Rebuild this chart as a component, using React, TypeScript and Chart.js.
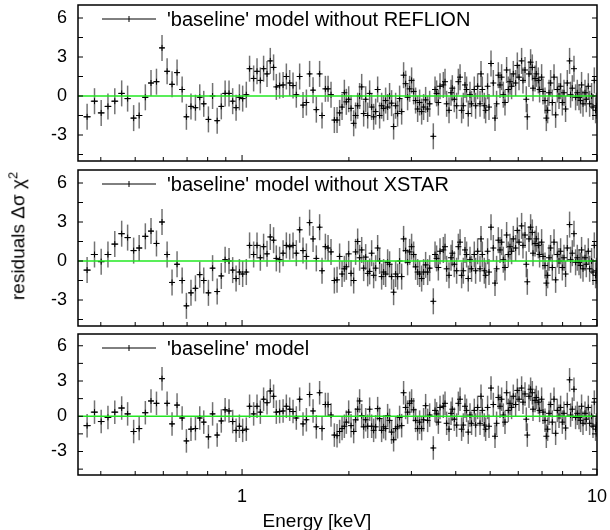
import { useEffect, useRef } from 'react'
import { Chart, registerables } from 'chart.js'

Chart.register(...registerables)

// channel energies (keV), shared by the three fits
const ENERGY_KEV = [
  0.366, 0.384, 0.401, 0.419, 0.438, 0.458, 0.476, 0.495, 0.513, 0.534,
  0.554, 0.574, 0.595, 0.615, 0.635, 0.656, 0.678, 0.697, 0.718, 0.739,
  0.760, 0.780, 0.804, 0.826, 0.851, 0.874, 0.896, 0.919, 0.941, 0.962,
  0.983, 1.004, 1.028, 1.050,
  1.078, 1.102, 1.126, 1.150, 1.176, 1.201, 1.227, 1.249, 1.276, 1.305,
  1.333, 1.362, 1.392, 1.422, 1.453, 1.485, 1.518, 1.550, 1.585, 1.619,
  1.654, 1.680, 1.717, 1.747, 1.781, 1.820, 1.852, 1.883, 1.913, 1.942,
  1.967, 1.997, 2.028, 2.063, 2.089, 2.117, 2.144, 2.173, 2.201, 2.230,
  2.259, 2.288, 2.318, 2.348, 2.379, 2.410, 2.441, 2.473, 2.505, 2.538,
  2.571, 2.604, 2.638, 2.673, 2.708, 2.743, 2.779, 2.816, 2.852, 2.890,
  2.927, 2.966, 3.004, 3.044, 3.083, 3.124, 3.164, 3.206, 3.247, 3.290,
  3.333, 3.377,
  3.458, 3.497, 3.533, 3.573, 3.612, 3.690, 3.731, 3.770, 3.829, 3.879,
  3.912, 3.963, 4.023, 4.068, 4.113, 4.155, 4.201, 4.247, 4.291, 4.338,
  4.387, 4.432, 4.511, 4.550, 4.610, 4.682, 4.712, 4.752, 4.814, 4.856,
  4.918, 4.963, 5.028, 5.104, 5.160, 5.214, 5.272, 5.330, 5.386, 5.445,
  5.505, 5.564, 5.625, 5.687, 5.746, 5.810,
  5.898, 5.964, 6.030, 6.132, 6.187, 6.268, 6.321, 6.363, 6.433, 6.501,
  6.572, 6.602, 6.689, 6.745, 6.833, 6.891, 6.982, 7.046, 7.137, 7.198,
  7.259, 7.326, 7.402, 7.484, 7.567, 7.646, 7.731, 7.816, 7.898, 7.985,
  8.072, 8.156, 8.247, 8.371, 8.425, 8.519, 8.613, 8.703, 8.800, 8.898,
  8.990, 9.048, 9.132, 9.251, 9.330, 9.452, 9.533, 9.656, 9.744, 9.827,
  9.910, 9.965,
]

// residuals in units of sigma
const RES_NO_REFLION = [
  -1.6, -0.4, -1.3, -0.8, -0.4, 0.2, -0.2, -1.7, -1.5, -0.1,
  1.0, 1.1, 3.7, 1.9, 0.9, 1.8, 0.5, -1.6, -0.8, -0.9,
  -0.1, -0.6, -1.8, 0, -1.9, -0.8, 0.2, 0.2, -0.4, -0.9,
  -0.1, -0.2, 0.1, 2.1,
  1.35, 1.9, 1.2, 2.1, 1.7, 2.7, 2.2, 0.7, 0.8, 0.85,
  1.5, 1.0, 0.8, 0.1, 1.5, -0.7, -0.5, 1.7, 0.45, -1.05,
  1.7, -1.5, 0.55, 0.55, 0.1, -1.85, -1.85, -1.3, -0.85, 0.25,
  -0.45, -0.25, -0.95, -2.1, -1.5, -0.75, 0, 0.7, -1.35, -0.25,
  -1.5, 0.2, -0.85, -1.6, -1.2, 0.5, -1.5, -0.75, -0.95, -0.35,
  -0.85, 0, -0.55, -2.35, -0.75, -1.35, -0.2, -1.2, 1.6, 0.95,
  -0.1, 0.55, 1.2, 0.35, -0.35, -1.0, -0.5, -1.2, -0.85, -0.3,
  -1.0, -0.6,
  -3.1, 0.5, 0.2, -0.5, 0.75, 0.85, 1.1, -0.6, -1.1, 0.25,
  0.6, -0.25, -0.75, 1.1, 1.45, -1.1, -0.75, 0.85, 0.5, -1.35,
  0.1, -0.6, 0.5, -0.75, 0.75, -0.6, 1.7, 0.5, -0.75, -1.1,
  0.75, -0.85, 2.5, 1.0, -1.7, -0.6, 1.6, 0.85, 1.45, 0.1,
  -0.5, 2.0, 0.5, 1.1, 0.75, 1.7,
  1.0, 2.35, 1.45, 2.7, 1.2, 2.0, -0.25, -1.6, 1.7, 2.6,
  2.2, 0.6, 1.35, 1.7, 1.2, 0.5, 1.45, 0.35, -0.35, -1.7,
  -1.1, 0.25, 1.0, -0.5, 1.45, -1.45, 0.5, 0, 0.75, -0.5,
  0.25, -1.0, 1.0, 2.7, 0.1, 0.6, 2.1, -0.1, 0.25, -0.1,
  -0.35, 0.85, -0.6, 0.25, -0.25, 0.75, -0.6, 0, -0.85, 1.2,
  -1.1, -0.75,
]

const RES_NO_XSTAR = [
  -0.7, 0.5, -0.05, 0.5, 1.3, 2.1, 1.8, 0.8, 1.0, 1.9,
  2.3, 1.35, 3.0, 0.5, -1.65, -0.25, -1.5, -3.45, -2.45, -2.1,
  -1.05, -1.5, -2.45, -0.55, -2.35, -1.15, 0.1, 0, -0.7, -1.35,
  -0.85, -1.0, -0.85, 1.2,
  0.5, 1.2, 0.25, 1.1, 0.55, 1.85, 1.6, 0.2, 0.1, 0.6,
  1.2, 1.1, 1.2, 0.6, 2.4, 0.8, 0.35, 2.95, 1.7, 0.2,
  2.6, -0.75, 1.1, 1.0, 0.7, -1.5, -1.45, 0.35, -1.0, -0.6,
  -0.45, 0.55, -0.95, -1.5, 0.7, 1.5, 0.25, 0.85, -0.55, 0.3,
  -0.95, -0.8, 0.6, -1.1, -0.55, 1.0, 0, -1.2, -0.85, -1.0,
  -0.1, -0.25, -1.2, -2.4, -1.0, -1.2, 0, -1.2, 1.7, 0.8,
  -0.1, 0.7, 1.1, 0.5, -0.45, -0.85, -1.0, -1.35, -0.85, -0.3,
  -0.85, -0.55,
  -3.1, 0.5, 0.2, -0.5, 0.75, 0.85, 1.1, -0.6, -1.1, 0.25,
  0.6, -0.25, -0.75, 1.1, 1.45, -1.1, -0.75, 0.85, 0.5, -1.35,
  0.1, -0.6, 0.5, -0.75, 0.75, -0.6, 1.7, 0.5, -0.75, -1.1,
  0.75, -0.85, 2.6, 1.0, -1.7, -0.6, 1.6, 0.85, 1.45, 0.1,
  -0.5, 2.0, 0.5, 1.1, 0.75, 1.7,
  1.0, 2.35, 1.45, 2.7, 1.2, 2.0, -0.25, -1.6, 1.7, 2.6,
  2.2, 0.6, 1.35, 1.7, 1.2, 0.5, 1.45, 0.35, -0.35, -1.7,
  -1.1, 0.25, 1.0, -0.5, 1.45, -1.45, 0.5, 0, 0.75, -0.5,
  0.25, -1.0, 1.0, 2.8, 0.1, 0.6, 2.1, -0.1, 0.25, -0.1,
  -0.35, 0.85, -0.6, 0.25, -0.25, 0.75, -0.6, 0, -0.85, 1.2,
  -1.1, -0.75,
]

const RES_BASELINE = [
  -0.8, 0.35, -0.45, -0.1, 0.35, 0.7, 0.2, -1.3, -1.05, 0.3,
  1.3, 1.1, 3.2, 1.1, -0.65, 0.95, -0.15, -2.1, -1.1, -1.05,
  -0.15, -0.5, -1.75, 0.2, -1.6, -0.4, 0.55, 0.45, -0.45, -1.2,
  -0.85, -1.2, -1.1, 0.85,
  0.2, 0.85, 0.35, 1.45, 1.15, 2.15, 1.7, 0.35, 0.4, 0.45,
  0.85, 0.6, 0.4, -0.15, 1.45, -0.65, -0.3, 1.85, 0.45, -0.9,
  2.0, -1.05, 1.0, 1.0, 0.1, -1.6, -1.65, -1.3, -1.05, -0.85,
  -0.5, 0.35, -0.8, -1.3, -0.3, 0.6, 1.3, 0.05, -0.9, -0.3,
  -0.85, 0.6, -0.85, -1.2, -0.9, 0.65, -0.2, -1.2, -0.9, -1.05,
  0.05, -0.35, -1.35, -2.0, -1.05, -0.9, -0.1, -0.8, 2.0, 0.75,
  0.35, 1.1, 1.3, 0.55, -0.35, -1.05, -0.5, -1.05, -0.3, 0.9,
  -0.35, 0.1,
  -2.7, 0.5, 0.2, -0.5, 0.75, 0.85, 1.1, -0.6, -1.1, 0.25,
  0.6, -0.25, -0.75, 1.1, 1.45, -1.1, -0.75, 0.85, 0.5, -1.35,
  0.1, -0.6, 0.5, -0.75, 0.75, -0.6, 1.7, 0.5, -0.75, -1.1,
  0.75, -0.85, 2.4, 1.0, -1.7, -0.6, 1.6, 0.85, 1.45, 0.1,
  -0.5, 2.0, 0.5, 1.1, 0.75, 1.7,
  1.0, 2.2, 1.45, 2.4, 1.2, 1.9, -0.25, -1.6, 1.7, 2.3,
  2.0, 0.6, 1.35, 1.6, 1.2, 0.5, 1.45, 0.35, -0.35, -1.7,
  -1.1, 0.25, 1.0, -0.5, 1.45, -1.45, 0.5, 0, 0.75, -0.5,
  0.25, -1.0, 1.0, 3.1, 0.1, 0.6, 2.3, -0.1, 0.25, -0.1,
  -0.35, 0.85, -0.6, 0.25, -0.25, 0.75, -0.6, 0, -0.85, 1.2,
  -1.1, -0.75,
]

const SIGMA = 1
const LEGENDS = [
  "'baseline' model without REFLION",
  "'baseline' model without XSTAR",
  "'baseline' model",
]
const Y_TICKS = [-4.5, -3, -1.5, 0, 1.5, 3, 4.5, 6]
const Y_LABELS = [-3, 0, 3, 6]
const X_TICKS = [0.4, 0.5, 0.6, 0.7, 0.8, 0.9, 1, 2, 3, 4, 5, 6, 7, 8, 9, 10]
const X_LABELS = [1, 10]
const X_MIN = 0.345
const X_MAX = 10
const Y_MIN = -5
const Y_MAX = 7

const FONT = "'Liberation Sans', Arial, sans-serif"

// bin edges: geometric midpoints between neighbouring channels
const BIN_EDGES = ENERGY_KEV.map((e, i, a) => {
  const lo = i > 0 ? Math.sqrt(a[i - 1] * e) : e / Math.sqrt(a[1] / e)
  const hi = i < a.length - 1 ? Math.sqrt(e * a[i + 1]) : e * Math.sqrt(e / a[i - 1])
  return [lo, hi]
})

const residualPlugin = {
  id: 'residuals',
  beforeDatasetsDraw(chart: any) {
    const { ctx, chartArea: a, scales: { x, y } } = chart
    const pts = chart.data.datasets[0].data
    ctx.save()
    ctx.beginPath()
    ctx.rect(a.left, a.top, a.width, a.height)
    ctx.clip()
    pts.forEach((p: any, i: number) => {
      const px = x.getPixelForValue(p.x)
      const py = y.getPixelForValue(p.y)
      ctx.strokeStyle = 'rgba(0,0,0,0.55)'
      ctx.lineWidth = 1.5
      ctx.beginPath()
      ctx.moveTo(px, y.getPixelForValue(p.y - SIGMA))
      ctx.lineTo(px, y.getPixelForValue(p.y + SIGMA))
      ctx.stroke()
      ctx.strokeStyle = '#000'
      ctx.lineWidth = 1
      ctx.beginPath()
      ctx.moveTo(x.getPixelForValue(BIN_EDGES[i][0]), py)
      ctx.lineTo(x.getPixelForValue(BIN_EDGES[i][1]), py)
      ctx.stroke()
    })
    ctx.restore()
  },
  afterDatasetsDraw(chart: any, _args: any, opts: any) {
    const { ctx, chartArea: a, scales: { x, y } } = chart
    ctx.save()
    // zero line
    const y0 = y.getPixelForValue(0)
    ctx.strokeStyle = '#22e822'
    ctx.lineWidth = 1.5
    ctx.beginPath()
    ctx.moveTo(a.left, y0)
    ctx.lineTo(a.right, y0)
    ctx.stroke()
    // inward ticks
    ctx.strokeStyle = '#000'
    ctx.lineWidth = 1
    ctx.beginPath()
    Y_TICKS.forEach(v => {
      const py = y.getPixelForValue(v)
      ctx.moveTo(a.left, py); ctx.lineTo(a.left + 5, py)
      ctx.moveTo(a.right, py); ctx.lineTo(a.right - 5, py)
    })
    X_TICKS.forEach(v => {
      const px = x.getPixelForValue(v)
      const len = X_LABELS.includes(v) ? 6 : 4
      ctx.moveTo(px, a.bottom); ctx.lineTo(px, a.bottom - len)
    })
    ctx.stroke()
    // frame
    ctx.lineWidth = 1.5
    ctx.strokeRect(a.left, a.top, a.width, a.height)
    // key
    const ky = a.top + 14
    ctx.lineWidth = 1
    ctx.beginPath()
    ctx.moveTo(a.left + 24, ky); ctx.lineTo(a.left + 78, ky)
    ctx.moveTo(a.left + 51, ky - 3); ctx.lineTo(a.left + 51, ky + 3)
    ctx.stroke()
    ctx.fillStyle = '#000'
    ctx.font = `20px ${FONT}`
    ctx.textBaseline = 'middle'
    ctx.textAlign = 'left'
    ctx.fillText(opts.label, a.left + 89, ky + 1)
    ctx.restore()
  },
}

type PanelProps = { values: number[]; label: string; top: number; height: number; showAxis?: boolean }

function Panel({ values, label, top, height, showAxis = false }: PanelProps) {
  const canvasRef = useRef<HTMLCanvasElement>(null)

  useEffect(() => {
    if (!canvasRef.current) return
    const tickFont = { family: FONT, size: 18 }
    const chart = new Chart(canvasRef.current, {
      type: 'scatter',
      data: {
        datasets: [{
          data: ENERGY_KEV.map((e, i) => ({ x: e, y: values[i] })),
          pointStyle: 'cross',
          pointRadius: 3,
          borderColor: '#000',
          backgroundColor: '#000',
          borderWidth: 1,
          showLine: false,
        }],
      },
      options: {
        responsive: false,
        devicePixelRatio: 1,
        animation: false,
        layout: { padding: { top: 1.5, right: 13, bottom: showAxis ? 0 : 1, left: 0 } },
        plugins: {
          legend: { display: false },
          tooltip: { enabled: false },
          residuals: { label },
        } as any,
        scales: {
          x: {
            type: 'logarithmic',
            bounds: 'data',
            min: X_MIN,
            max: X_MAX,
            display: showAxis,
            afterBuildTicks: (s: any) => { s.ticks = X_LABELS.map(v => ({ value: v })) },
            afterFit: (s: any) => {
              s.paddingLeft = 0
              s.paddingRight = 0
              s.height = showAxis ? 55 : 0
            },
            ticks: { font: tickFont, color: '#000', padding: 11, maxRotation: 0, autoSkip: false, callback: (v: any) => String(v) },
            grid: { display: false, drawTicks: false },
            border: { display: false },
          },
          y: {
            min: Y_MIN,
            max: Y_MAX,
            afterBuildTicks: (s: any) => { s.ticks = Y_LABELS.map(v => ({ value: v })) },
            afterFit: (s: any) => {
              s.paddingTop = 0
              s.paddingBottom = 0
              s.width = 78
            },
            ticks: { font: tickFont, color: '#000', padding: 11 },
            grid: { display: false, drawTicks: false },
            border: { display: false },
          },
        },
      },
      plugins: [residualPlugin],
    } as any)
    return () => chart.destroy()
  }, [values, label, showAxis])

  return (
    <canvas
      ref={canvasRef}
      width={610}
      height={height}
      style={{ position: 'absolute', left: 0, top, width: 610, height }}
    />
  )
}

export default function App() {
  return (
    <div style={{ position: 'absolute', left: 0, top: 0, width: 610, height: 530, background: '#fff', fontFamily: FONT, color: '#000' }}>
      <Panel values={RES_NO_REFLION} label={LEGENDS[0]} top={0} height={166} />
      <Panel values={RES_NO_XSTAR} label={LEGENDS[1]} top={165} height={166} />
      <Panel values={RES_BASELINE} label={LEGENDS[2]} top={329} height={201} showAxis />
      <div style={{ position: 'absolute', left: 17, top: 236, transform: 'translate(-50%, -50%) rotate(-90deg)', whiteSpace: 'nowrap', fontSize: 19, lineHeight: 1 }}>
        residuals Δσ χ<sup style={{ fontSize: 13 }}>2</sup>
      </div>
      <div style={{ position: 'absolute', left: 317, top: 520, transform: 'translate(-50%, -50%)', whiteSpace: 'nowrap', fontSize: 19, lineHeight: 1 }}>
        Energy [keV]
      </div>
    </div>
  )
}
